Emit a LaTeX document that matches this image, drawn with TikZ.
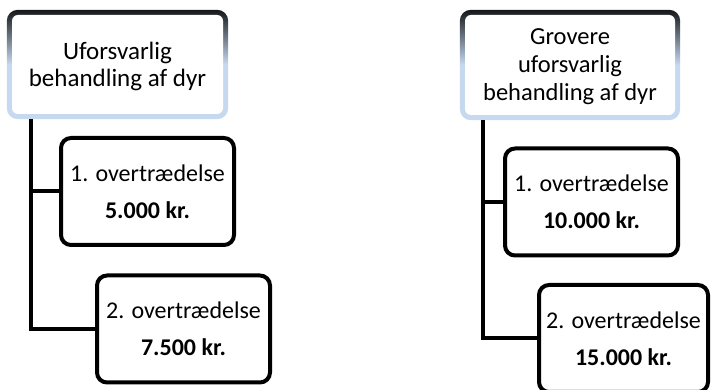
\documentclass[tikz,border=0pt]{standalone}
\usepackage{fontspec}
\setmainfont{Carlito}
\usetikzlibrary{backgrounds}
\definecolor{edgeblue}{RGB}{198,217,241}
\pgfdeclareverticalshading{edgefade}{100bp}{color(0bp)=(edgeblue); color(50bp)=(edgeblue); color(78bp)=(black); color(100bp)=(black)}
\tikzset{
  parent/.style = {fill=white, rounded corners=6, inner sep=0, minimum width=211, minimum height=99, align=center, text depth=-2pt},
  child/.style = {draw, line width=4, rounded corners=10, inner sep=0, minimum width=173, minimum height=107, align=center, font=\fontsize{24}{37}\selectfont},
  link/.style = {line width=4}
}

\begin{document}
\begin{tikzpicture}[x=1pt, y=1pt]
    \useasboundingbox (0, 0) rectangle (711, 390);

    \node [parent, font=\fontsize{25}{27}\selectfont] (parL) at (117.5, 325.5) {Uforsvarlig\\behandling af dyr};
    \node [child] (firstL) at (147.5, 198.5) {1. overtrædelse\\\textbf{5.000 kr.}};
    \node [child] (secondL) at (183.5, 61) {2. overtrædelse\\\textbf{7.500 kr.}};

    \node [parent, minimum width=210, minimum height=100, font=\fontsize{24.5}{28}\selectfont] (parR) at (570, 325) {Grovere\\uforsvarlig\\behandling af dyr};
    \node [child] (firstR) at (591.5, 188) {1. overtrædelse\\\textbf{10.000 kr.}};
    \node [child, minimum width=169] (secondR) at (623.5, 51.5) {2. overtrædelse\\\textbf{15.000 kr.}};

    \begin{scope}[on background layer]
        \shade [shading=edgefade, rounded corners=11] ([shift={(-5, 5)}]parL.north west) rectangle ([shift={(5, -5)}]parL.south east);
        \shade [shading=edgefade, rounded corners=11] ([shift={(-5, 5)}]parR.north west) rectangle ([shift={(5, -5)}]parR.south east);
    \end{scope}

    \coordinate (trunkL) at ([shift={(19, -5)}]parL.south west);
    \coordinate (trunkR) at ([shift={(18, -5)}]parR.south west);

    \draw [link] (trunkL) |- (secondL.west);
    \draw [link] (trunkL |- firstL.west) -- (firstL.west);
    \draw [link] (trunkR) |- (secondR.west);
    \draw [link] (trunkR |- firstR.west) -- (firstR.west);
\end{tikzpicture}
\end{document}
